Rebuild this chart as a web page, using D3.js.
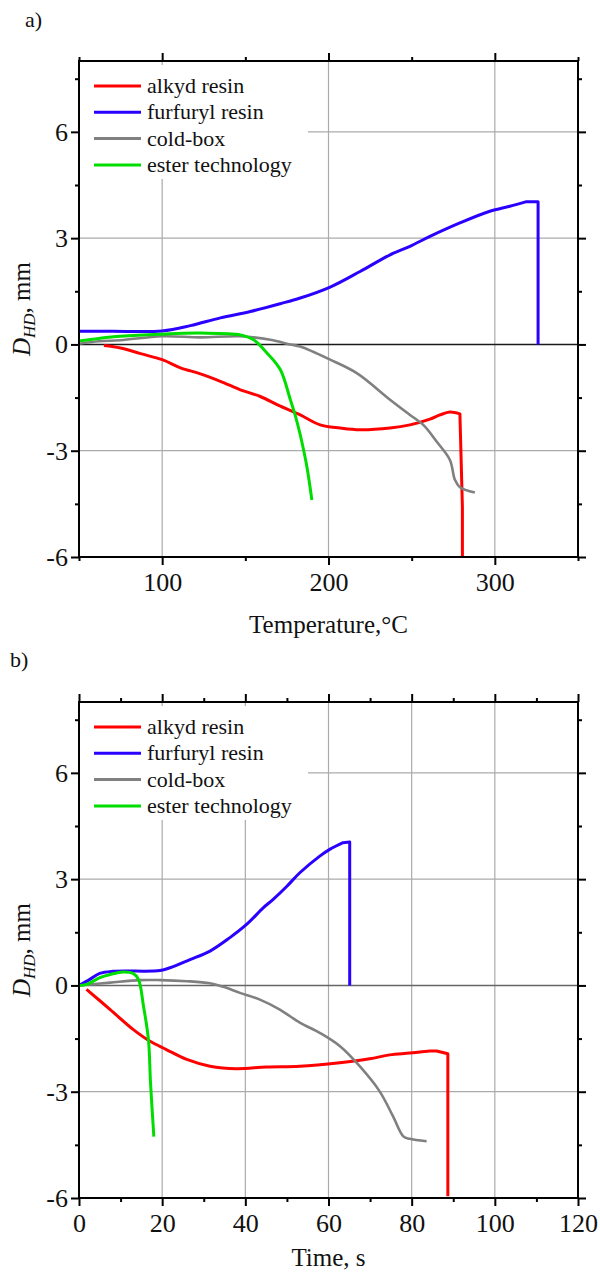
<!DOCTYPE html>
<html>
<head>
<meta charset="utf-8">
<script src="https://cdn.jsdelivr.net/npm/d3@7"></script>
<style>
  body { margin: 0; background: #fff; }
</style>
</head>
<body>
<svg width="600" height="1274"></svg>
<script>
// ---- data ----
var seriesNames = ["alkyd resin", "furfuryl resin", "cold-box", "ester technology"];
var seriesColors = ["#ff0000", "#2b00ff", "#808080", "#00dd00"];

// panel a) temperature, °C
var alkydT = [65, 75, 87, 100, 111, 123, 135, 147, 159, 170, 183, 195, 207, 219, 237, 249, 261, 267, 273, 279, 280.5, 280.5];
var alkydTD = [-0.03, -0.1, -0.26, -0.43, -0.66, -0.83, -1.04, -1.28, -1.47, -1.72, -1.99, -2.27, -2.36, -2.41, -2.36, -2.27, -2.11, -1.99, -1.91, -1.96, -4.58, -6];
var furfurylT = [50, 70, 100, 117, 135, 153, 171, 183, 201, 219, 237, 249, 261, 279, 297, 309, 319, 326, 326];
var furfurylTD = [0.37, 0.37, 0.38, 0.53, 0.75, 0.93, 1.15, 1.31, 1.62, 2.06, 2.53, 2.77, 3.05, 3.43, 3.76, 3.9, 4.03, 4.03, 0];
var coldboxT = [50, 62, 75, 100, 123, 147, 165, 177, 183, 201, 217, 237, 249, 257, 265, 273, 276, 279, 288];
var coldboxTD = [0.02, 0.09, 0.12, 0.23, 0.2, 0.23, 0.13, 0.0, -0.06, -0.43, -0.81, -1.56, -1.99, -2.27, -2.74, -3.26, -3.82, -4.03, -4.18];
var esterT = [50, 62, 75, 99, 123, 147, 155, 163, 171, 177, 180, 183, 187, 190];
var esterTD = [0.1, 0.17, 0.23, 0.29, 0.32, 0.27, 0.13, -0.24, -0.71, -1.55, -2.0, -2.55, -3.45, -4.39];

// panel b) time, s
var alkydS = [1.8, 7.5, 13, 17, 21, 25.9, 31.5, 37.9, 45.1, 53.1, 62.7, 69.9, 74.7, 79.5, 84.3, 86, 88.7, 88.7];
var alkydSD = [-0.11, -0.68, -1.24, -1.57, -1.81, -2.09, -2.28, -2.35, -2.3, -2.28, -2.18, -2.07, -1.96, -1.91, -1.85, -1.85, -1.93, -5.95];
var furfurylS = [0, 2.6, 5, 8.2, 19.5, 21.9, 26.7, 31.5, 36.3, 40.3, 44.3, 46.7, 50, 53.1, 57.9, 60.3, 63.5, 65.1, 65.1];
var furfurylSD = [0, 0.17, 0.34, 0.4, 0.42, 0.5, 0.73, 0.97, 1.35, 1.72, 2.19, 2.43, 2.8, 3.18, 3.65, 3.84, 4.03, 4.05, 0];
var coldboxS = [0, 7.5, 14.7, 19.5, 25.9, 31.5, 34.7, 38.7, 43.5, 48.3, 53.1, 57.9, 62.7, 67.5, 72.3, 75.5, 78, 79.5, 83.6];
var coldboxSD = [0, 0.08, 0.15, 0.15, 0.12, 0.06, -0.04, -0.21, -0.4, -0.68, -1.05, -1.34, -1.71, -2.28, -2.99, -3.69, -4.26, -4.33, -4.4];
var esterS = [0, 1.85, 5, 7.5, 10.6, 13, 14.3, 15.5, 16.7, 17.2, 18];
var esterSD = [0, 0.03, 0.22, 0.31, 0.38, 0.34, 0.17, -0.58, -1.53, -2.75, -4.27];

// ticks
var yMajor = [-6, -3, 0, 3, 6];
var yMinor = [-4.5, -1.5, 1.5, 4.5, 7.5];
var yGrid = [-3, 3, 6];
var tempMajor = [100, 200, 300];
var tempMinor = [50, 150, 250, 350];
var timeMajor = [0, 20, 40, 60, 80, 100, 120];
var timeMinor = [10, 30, 50, 70, 90, 110];
var timeGrid = [20, 40, 60, 80, 100];

var serif = '"Liberation Serif", "DejaVu Serif", "Times New Roman", serif';

function zip(xs, ys) {
  return xs.map(function (d, i) { return [d, ys[i]]; });
}

var svg = d3.select("svg");
var left = 79, right = 578;

function drawPanel(cfg) {
  var x = d3.scaleLinear().domain(cfg.xDomain).range([left, right]);
  var y = d3.scaleLinear().domain([-6, 8]).range([cfg.bottom, cfg.top]);
  var g = svg.append("g");

  // grid
  g.selectAll(".vgrid").data(cfg.xGrid).enter().append("line")
    .attr("x1", function (d) { return x(d); }).attr("x2", function (d) { return x(d); })
    .attr("y1", cfg.top).attr("y2", cfg.bottom)
    .attr("stroke", "#ababab").attr("stroke-width", 1.2);
  g.selectAll(".hgrid").data(yGrid).enter().append("line")
    .attr("x1", left).attr("x2", right)
    .attr("y1", function (d) { return y(d); }).attr("y2", function (d) { return y(d); })
    .attr("stroke", "#ababab").attr("stroke-width", 1.2);
  g.append("line")
    .attr("x1", left).attr("x2", right).attr("y1", y(0)).attr("y2", y(0))
    .attr("stroke", cfg.zeroColor).attr("stroke-width", 1.6);

  // legend background hides the grid behind it
  g.append("rect").attr("x", left + 1).attr("y", cfg.top + 4)
    .attr("width", 228).attr("height", 114).attr("fill", "#fff");

  // series: smooth curve, then straight segments for the vertical drop at the end
  var smooth = d3.line()
    .curve(d3.curveCatmullRom.alpha(0.5))
    .x(function (d) { return x(d[0]); })
    .y(function (d) { return y(d[1]); });
  cfg.series.forEach(function (s, i) {
    var lastX = s[s.length - 1][0];
    var k = s.findIndex(function (d) { return d[0] === lastX; });
    var d;
    if (k === s.length - 1) {
      d = smooth(s);
    } else {
      d = smooth(s.slice(0, k));
      s.slice(k).forEach(function (p) { d += "L" + x(p[0]) + "," + y(p[1]); });
    }
    g.append("path")
      .attr("d", d)
      .attr("fill", "none")
      .attr("stroke", seriesColors[i])
      .attr("stroke-width", i === 2 ? 2.6 : 3)
      .attr("stroke-linejoin", "round");
  });

  // axes
  function axis(gen, scale, vals, size, pad, pos, labels) {
    var a = gen(scale).tickValues(vals).tickSize(size).tickPadding(pad);
    if (!labels) a.tickFormat("");
    else a.tickFormat(function (d) { return String(d); });
    var ag = g.append("g").attr("transform", pos).call(a);
    ag.select(".domain").remove();
    ag.selectAll("line").attr("stroke", "#000").attr("stroke-width", 2);
    ag.selectAll("text").style("font-size", "26px").style("font-family", serif).attr("fill", "#111");
    return ag;
  }
  axis(d3.axisBottom, x, cfg.xMajor, 8, 8, "translate(0," + cfg.bottom + ")", true);
  axis(d3.axisBottom, x, cfg.xMinor, 4, 0, "translate(0," + cfg.bottom + ")", false);
  axis(d3.axisTop, x, cfg.xMajor, 8, 0, "translate(0," + cfg.top + ")", false);
  axis(d3.axisTop, x, cfg.xMinor, 4, 0, "translate(0," + cfg.top + ")", false);
  axis(d3.axisLeft, y, yMajor, 8, 3, "translate(" + left + ",0)", true);
  axis(d3.axisLeft, y, yMinor, 4, 0, "translate(" + left + ",0)", false);
  axis(d3.axisRight, y, yMajor, 8, 0, "translate(" + right + ",0)", false);
  axis(d3.axisRight, y, yMinor, 4, 0, "translate(" + right + ",0)", false);

  // frame
  g.append("rect").attr("x", left).attr("y", cfg.top)
    .attr("width", right - left).attr("height", cfg.bottom - cfg.top)
    .attr("fill", "none").attr("stroke", "#000").attr("stroke-width", 2);

  // legend
  seriesNames.forEach(function (name, i) {
    var ly = cfg.top + 25 + i * 26.3;
    g.append("line").attr("x1", 94).attr("x2", 141).attr("y1", ly).attr("y2", ly)
      .attr("stroke", seriesColors[i]).attr("stroke-width", 3);
    g.append("text").attr("x", 147).attr("y", ly).attr("dy", "0.32em")
      .style("font-family", serif).style("font-size", "22px").attr("fill", "#111").text(name);
  });

  // axis titles
  g.append("text").attr("x", (left + right) / 2).attr("y", cfg.bottom + cfg.titleOffset)
    .attr("text-anchor", "middle").style("font-family", serif).style("font-size", "25px")
    .attr("fill", "#111").text(cfg.xTitle);
  var yt = g.append("text")
    .attr("transform", "translate(30," + (cfg.top + cfg.bottom) / 2 + ") rotate(-90)")
    .attr("text-anchor", "middle").style("font-family", serif).style("font-size", "25px")
    .attr("fill", "#111");
  yt.append("tspan").style("font-style", "italic").text("D");
  yt.append("tspan").style("font-style", "italic").style("font-size", "17px").attr("dy", 5).text("HD");
  yt.append("tspan").attr("dy", -5).text(", mm");

  // panel letter
  g.append("text").attr("x", cfg.letterX).attr("y", cfg.letterY)
    .style("font-family", serif).style("font-size", "22px").attr("fill", "#111").text(cfg.letter);
}

drawPanel({
  top: 61, bottom: 557, xDomain: [50, 350],
  xMajor: tempMajor, xMinor: tempMinor, xGrid: tempMajor,
  zeroColor: "#1a1a1a", titleOffset: 76,
  series: [zip(alkydT, alkydTD), zip(furfurylT, furfurylTD), zip(coldboxT, coldboxTD), zip(esterT, esterTD)],
  xTitle: "Temperature,°C", letter: "a)", letterX: 25, letterY: 27
});

drawPanel({
  top: 702, bottom: 1198, xDomain: [0, 120],
  xMajor: timeMajor, xMinor: timeMinor, xGrid: timeGrid,
  zeroColor: "#666", titleOffset: 68,
  series: [zip(alkydS, alkydSD), zip(furfurylS, furfurylSD), zip(coldboxS, coldboxSD), zip(esterS, esterSD)],
  xTitle: "Time, s", letter: "b)", letterX: 10, letterY: 667
});
</script>
</body>
</html>
